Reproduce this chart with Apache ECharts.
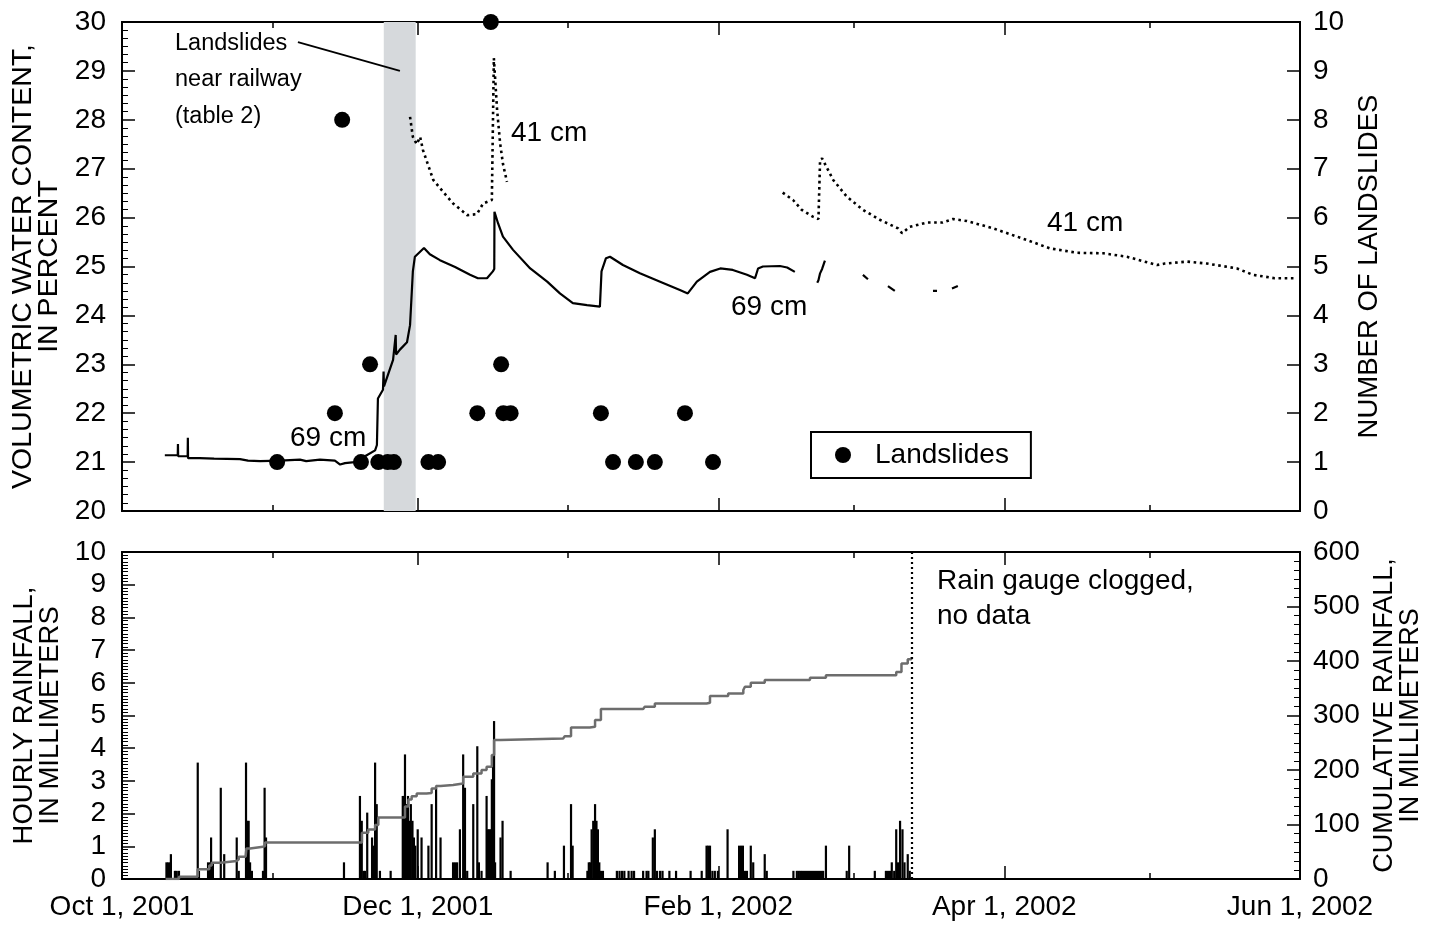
<!DOCTYPE html>
<html><head><meta charset="utf-8">
<script src="https://cdn.jsdelivr.net/npm/echarts@6/dist/echarts.min.js"></script>
<style>html,body{margin:0;padding:0;background:#fff}#c{width:1437px;height:926px}</style>
</head><body><div id="c"></div>
<script>
// ---------- DATA ----------
const xMin = '2001-10-01 00:00', xMax = '2002-06-01 00:00';
const majorDates = ['2001-10-01','2001-12-01','2002-02-01','2002-04-01','2002-06-01'];
const majorLabels = ['Oct 1, 2001','Dec 1, 2001','Feb 1, 2002','Apr 1, 2002','Jun 1, 2002'];
const minorDates = ['2001-11-01','2002-01-01','2002-03-01','2002-05-01'];

const vwc69 = [
 ["2001-10-09 20:00",21.14],["2001-10-12 12:00",21.14],["2001-10-12 13:00",21.37],["2001-10-12 14:00",21.12],["2001-10-14 13:00",21.12],["2001-10-14 14:00",21.5],["2001-10-14 15:00",21.08],["2001-10-17 00:00",21.08],["2001-10-20 00:00",21.07],["2001-10-25 08:00",21.06],["2001-10-27 00:00",21.03],["2001-10-29 12:00",21.02],["2001-11-02 14:00",21.03],["2001-11-06 17:00",21.05],["2001-11-08 00:00",21.02],["2001-11-10 20:00",21.05],["2001-11-13 22:00",21.03],["2001-11-15 00:00",20.95],["2001-11-16 00:00",20.98],["2001-11-18 00:00",21.0],["2001-11-20 03:00",21.12],["2001-11-22 05:00",21.24],["2001-11-22 14:00",21.35],["2001-11-22 19:00",22.3],["2001-11-23 20:00",22.48],["2001-11-23 23:00",22.85],["2001-11-24 01:00",22.55],["2001-11-25 22:00",23.09],["2001-11-26 11:00",23.6],["2001-11-26 13:00",23.2],["2001-11-27 08:00",23.3],["2001-11-28 19:00",23.45],["2001-11-29 10:00",23.8],["2001-11-30 00:00",24.9],["2001-11-30 10:00",25.2],["2001-12-02 07:00",25.38],["2001-12-03 12:00",25.25],["2001-12-05 14:00",25.13],["2001-12-08 17:00",24.99],["2001-12-11 19:00",24.83],["2001-12-13 10:00",24.76],["2001-12-15 07:00",24.76],["2001-12-16 12:00",24.9],["2001-12-16 19:00",24.95],["2001-12-16 20:00",26.12],["2001-12-17 14:00",25.88],["2001-12-18 14:00",25.61],["2001-12-20 16:00",25.34],["2001-12-24 05:00",24.96],["2001-12-27 17:00",24.69],["2001-12-30 08:00",24.45],["2002-01-02 00:00",24.25],["2002-01-04 22:00",24.21],["2002-01-07 14:00",24.18],["2002-01-07 22:00",24.9],["2002-01-08 20:00",25.17],["2002-01-09 16:00",25.2],["2002-01-12 08:00",25.03],["2002-01-15 20:00",24.86],["2002-01-20 00:00",24.69],["2002-01-24 02:00",24.52],["2002-01-25 17:00",24.45],["2002-01-27 14:00",24.69],["2002-01-30 07:00",24.89],["2002-02-01 10:00",24.96],["2002-02-04 00:00",24.93],["2002-02-06 22:00",24.83],["2002-02-08 14:00",24.76],["2002-02-09 05:00",24.96],["2002-02-10 05:00",25.0],["2002-02-13 17:00",25.01],["2002-02-15 05:00",24.98],["2002-02-16 19:00",24.89],
 ["2002-02-18 00:00",null],
 ["2002-02-21 10:00",24.67],["2002-02-21 16:00",24.72],["2002-02-22 00:00",24.86],["2002-02-22 10:00",24.95],["2002-02-23 00:00",25.12],
 ["2002-02-27 00:00",null],
 ["2002-03-02 20:00",24.83],["2002-03-03 21:00",24.74],
 ["2002-03-05 00:00",null],
 ["2002-03-08 00:00",24.6],["2002-03-09 10:00",24.5],
 ["2002-03-13 00:00",null],
 ["2002-03-17 07:00",24.5],["2002-03-18 03:00",24.5],
 ["2002-03-20 00:00",null],
 ["2002-03-21 05:00",24.55],["2002-03-22 10:00",24.6]
];

const vwc41 = [
 ["2001-11-29 10:00",28.06],["2001-11-30 00:00",27.65],["2001-11-30 19:00",27.5],["2001-12-01 12:00",27.65],["2001-12-02 02:00",27.38],["2001-12-04 05:00",26.77],["2001-12-06 05:00",26.53],["2001-12-08 07:00",26.29],["2001-12-11 05:00",26.05],["2001-12-13 05:00",26.07],["2001-12-14 12:00",26.29],["2001-12-16 07:00",26.36],["2001-12-16 17:00",29.26],["2001-12-17 09:00",28.2],["2001-12-18 00:00",27.52],["2001-12-18 14:00",27.1],["2001-12-19 10:00",26.73],
 ["2002-01-01 00:00",null],
 ["2002-02-14 07:00",26.51],["2002-02-16 10:00",26.36],["2002-02-18 05:00",26.16],["2002-02-20 12:00",26.02],["2002-02-21 16:00",25.97],["2002-02-22 00:00",27.18],["2002-02-22 10:00",27.21],["2002-02-24 17:00",26.77],["2002-02-27 12:00",26.43],["2002-03-02 20:00",26.16],["2002-03-06 10:00",25.95],["2002-03-10 02:00",25.78],["2002-03-10 22:00",25.68],["2002-03-12 12:00",25.81],["2002-03-16 02:00",25.9],["2002-03-19 07:00",25.9],["2002-03-21 10:00",25.97],["2002-03-24 07:00",25.93],["2002-03-29 17:00",25.78],["2002-04-05 17:00",25.54],["2002-04-10 10:00",25.37],["2002-04-16 00:00",25.28],["2002-04-21 10:00",25.27],["2002-04-26 07:00",25.2],["2002-05-02 12:00",25.03],["2002-05-04 02:00",25.06],["2002-05-08 17:00",25.1],["2002-05-12 19:00",25.06],["2002-05-19 00:00",24.96],["2002-05-22 07:00",24.83],["2002-05-26 19:00",24.76],["2002-05-30 23:00",24.76]
];

const landslides = [
 ["2001-11-02 00:00",1],["2001-11-13 22:00",2],["2001-11-15 10:00",8],["2001-11-19 07:00",1],["2001-11-21 04:00",3],["2001-11-22 21:00",1],["2001-11-24 19:00",1],["2001-11-26 02:00",1],["2001-12-03 05:00",1],["2001-12-05 05:00",1],["2001-12-13 07:00",2],["2001-12-16 02:00",10],["2001-12-18 05:00",3],["2001-12-18 16:00",2],["2001-12-20 04:00",2],["2002-01-07 19:00",2],["2002-01-10 07:00",1],["2002-01-15 00:00",1],["2002-01-18 22:00",1],["2002-01-25 03:00",2],["2002-01-30 22:00",1]
];

const hourlyRain = [
 ["2001-10-10 04:00",0.51],["2001-10-10 12:00",0.51],["2001-10-10 22:00",0.51],["2001-10-11 02:00",0.76],["2001-10-11 22:00",0.25],["2001-10-12 07:00",0.25],["2001-10-12 18:00",0.25],
 ["2001-10-16 15:00",3.56],["2001-10-16 21:00",0.25],
 ["2001-10-18 18:00",0.51],["2001-10-19 04:00",0.51],["2001-10-19 09:00",1.27],["2001-10-19 18:00",0.51],
 ["2001-10-21 09:00",2.79],["2001-10-22 02:00",0.76],
 ["2001-10-24 16:00",1.27],["2001-10-25 02:00",0.25],
 ["2001-10-26 14:00",3.56],["2001-10-26 20:00",1.78],["2001-10-27 03:00",1.78],["2001-10-27 10:00",0.51],["2001-10-27 19:00",0.25],
 ["2001-10-30 02:00",0.25],["2001-10-30 10:00",2.79],["2001-10-30 17:00",1.27],
 ["2001-11-15 19:00",0.51],
 ["2001-11-19 02:00",2.54],["2001-11-19 11:00",1.78],["2001-11-19 19:00",0.25],["2001-11-20 03:00",0.25],["2001-11-20 14:00",2.03],
 ["2001-11-21 14:00",1.27],["2001-11-21 22:00",1.02],["2001-11-22 05:00",3.56],["2001-11-22 13:00",2.29],["2001-11-23 05:00",0.25],
 ["2001-11-25 10:00",0.25],
 ["2001-11-27 22:00",2.54],["2001-11-28 04:00",2.54],["2001-11-28 09:00",3.81],["2001-11-28 16:00",2.29],["2001-11-29 00:00",2.54],["2001-11-29 07:00",1.78],["2001-11-29 14:00",2.29],["2001-11-29 22:00",1.78],["2001-11-30 05:00",1.27],["2001-11-30 12:00",1.02],
 ["2001-12-01 00:00",1.52],["2001-12-01 19:00",1.27],
 ["2001-12-03 05:00",1.02],["2001-12-03 21:00",2.29],["2001-12-04 19:00",2.79],["2001-12-05 17:00",1.27],
 ["2001-12-08 07:00",0.51],["2001-12-08 17:00",0.51],["2001-12-09 03:00",0.51],["2001-12-09 17:00",1.52],["2001-12-10 09:00",3.81],["2001-12-10 18:00",2.79],["2001-12-11 05:00",0.25],
 ["2001-12-12 11:00",2.29],["2001-12-13 07:00",4.06],["2001-12-13 15:00",0.51],["2001-12-14 04:00",0.25],
 ["2001-12-15 05:00",2.54],["2001-12-15 12:00",1.52],["2001-12-15 19:00",1.52],["2001-12-16 01:00",1.52],["2001-12-16 07:00",3.05],["2001-12-16 13:00",3.81],["2001-12-16 18:00",4.83],["2001-12-16 23:00",0.51],
 ["2001-12-18 02:00",1.27],["2001-12-18 12:00",1.78],["2001-12-20 04:00",0.25],
 ["2001-12-27 19:00",0.51],["2001-12-29 07:00",0.25],["2001-12-31 04:00",1.02],
 ["2002-01-01 15:00",2.29],["2002-01-01 23:00",1.02],
 ["2002-01-05 00:00",0.25],["2002-01-05 07:00",0.51],["2002-01-05 14:00",0.51],["2002-01-05 21:00",1.52],["2002-01-06 05:00",1.78],["2002-01-06 14:00",2.29],["2002-01-06 21:00",1.78],["2002-01-07 04:00",1.52],["2002-01-07 11:00",0.51],["2002-01-07 19:00",0.25],["2002-01-08 05:00",0.25],
 ["2002-01-11 02:00",0.25],["2002-01-11 15:00",0.25],["2002-01-12 03:00",0.25],["2002-01-12 15:00",0.25],["2002-01-13 12:00",0.25],["2002-01-14 03:00",0.25],["2002-01-14 15:00",0.25],
 ["2002-01-16 12:00",0.25],["2002-01-17 05:00",0.25],["2002-01-17 14:00",0.25],["2002-01-18 12:00",1.27],["2002-01-18 22:00",1.52],["2002-01-19 09:00",0.25],["2002-01-20 00:00",0.25],["2002-01-20 12:00",0.25],
 ["2002-01-21 22:00",0.25],["2002-01-23 07:00",0.25],["2002-01-26 07:00",0.25],["2002-01-28 14:00",0.25],
 ["2002-01-29 14:00",1.02],["2002-01-29 22:00",1.02],["2002-01-30 07:00",1.02],["2002-01-30 19:00",0.25],["2002-01-31 07:00",0.25],["2002-01-31 22:00",0.25],
 ["2002-02-02 22:00",1.52],
 ["2002-02-05 07:00",1.02],["2002-02-05 17:00",1.02],["2002-02-06 02:00",1.02],["2002-02-06 12:00",0.25],["2002-02-06 22:00",0.25],["2002-02-07 17:00",1.02],["2002-02-08 05:00",0.51],
 ["2002-02-10 14:00",0.76],["2002-02-11 00:00",0.25],
 ["2002-02-16 12:00",0.25],["2002-02-17 05:00",0.25],["2002-02-17 15:00",0.25],["2002-02-18 01:00",0.25],["2002-02-18 11:00",0.25],["2002-02-18 21:00",0.25],["2002-02-19 07:00",0.25],["2002-02-19 17:00",0.25],["2002-02-20 03:00",0.25],["2002-02-20 13:00",0.25],["2002-02-20 23:00",0.25],["2002-02-21 09:00",0.25],["2002-02-21 19:00",0.25],["2002-02-22 05:00",0.25],["2002-02-22 15:00",0.25],
 ["2002-02-23 05:00",1.02],
 ["2002-02-27 12:00",0.25],["2002-02-28 00:00",1.02],
 ["2002-03-05 07:00",0.25],
 ["2002-03-07 14:00",0.25],["2002-03-08 00:00",0.25],["2002-03-08 10:00",0.25],["2002-03-08 19:00",0.51],["2002-03-09 07:00",0.25],["2002-03-09 17:00",1.52],["2002-03-10 02:00",0.51],["2002-03-10 12:00",1.78],["2002-03-11 00:00",1.52],["2002-03-11 10:00",0.51],["2002-03-12 02:00",0.76],["2002-03-12 12:00",0.25]
];

const cumRain = [
 ["2001-10-10 00:00",0],["2001-10-12 18:00",4],["2001-10-16 15:00",18],["2001-10-19 00:00",25],["2001-10-19 12:00",30],["2001-10-21 09:00",33],["2001-10-24 16:00",36],["2001-10-25 02:00",41],["2001-10-26 12:00",44],["2001-10-26 16:00",56],["2001-10-27 10:00",59],["2001-10-30 02:00",60.5],["2001-10-30 12:00",67],
 ["2001-11-19 02:00",67],["2001-11-19 12:00",85],["2001-11-20 19:00",91],["2001-11-22 05:00",99],["2001-11-22 21:00",113],["2001-11-27 22:00",113],["2001-11-28 09:00",133],["2001-11-29 02:00",146],["2001-11-29 18:00",152],["2001-11-30 19:00",157],["2001-12-02 20:00",158],["2001-12-03 21:00",166],["2001-12-04 19:00",170.6],["2001-12-05 17:00",172.5],["2001-12-08 07:00",175.4],["2001-12-10 09:00",187.7],["2001-12-12 11:00",193.7],["2001-12-14 04:00",200],["2001-12-15 05:00",206],["2001-12-16 07:00",227.5],["2001-12-16 18:00",255],["2001-12-18 02:00",258],
 ["2001-12-31 00:00",258],["2001-12-31 08:00",262],["2002-01-01 15:00",278],["2002-01-05 12:00",279.5],["2002-01-06 14:00",291.7],["2002-01-07 19:00",312],["2002-01-16 12:00",312],["2002-01-16 20:00",316],["2002-01-18 22:00",322],["2002-01-29 14:00",323.5],["2002-01-30 07:00",336],["2002-02-03 01:00",340.5],["2002-02-06 04:00",346.8],["2002-02-06 12:00",352.8],["2002-02-07 17:00",360],["2002-02-10 14:00",365],["2002-02-19 22:00",369.4],["2002-02-23 05:00",374],["2002-03-08 02:00",374],["2002-03-09 17:00",380],["2002-03-10 19:00",395.6],["2002-03-12 02:00",403],["2002-03-12 20:00",406.7]
];

const railwayWindow = ['2001-11-24 00:00', '2001-11-30 14:00'];
const leaderLine = [["2001-11-06 07:00",29.59],["2001-11-27 08:00",29.0]];
const gaugeClogged = '2002-03-12 23:00';

// ---------- CHART ----------
const T = s => {
  const iso = s.length === 10 ? s + 'T00:00:00' : s.replace(' ', 'T') + ':00';
  return new Date(iso).getTime();
};
const XY = arr => arr.map(p => [T(p[0]), p[1]]);
const FONT = '"Liberation Sans", Arial, Helvetica, sans-serif';
const BLACK = '#000';
const majorT = majorDates.map(T), minorT = minorDates.map(T);

function xAxisDef(grid, pos, ticks, len, labels) {
  const ax = {
    type: 'value', gridIndex: grid, position: pos, min: T(xMin), max: T(xMax),
    axisLine: { show: true, onZero: false, lineStyle: { color: BLACK, width: 2 } },
    axisTick: { show: true, inside: true, length: len, customValues: ticks, lineStyle: { color: BLACK, width: 1.5 } },
    axisLabel: { show: false },
    splitLine: { show: false }, axisPointer: { show: false }
  };
  if (labels) {
    ax.axisLabel = {
      show: true, customValues: ticks, margin: 14, color: BLACK, fontSize: 28, fontFamily: FONT,
      showMinLabel: true, showMaxLabel: true,
      formatter: v => { const i = majorT.indexOf(v); return i >= 0 ? majorLabels[i] : ''; }
    };
  }
  return ax;
}

function yAxisDef(grid, pos, min, max, interval, minorSplit, name, gap, nameSize) {
  return {
    type: 'value', gridIndex: grid, position: pos, min, max, interval,
    name, nameLocation: 'middle', nameRotate: 90, nameGap: gap,
    nameTextStyle: { fontSize: nameSize || 27, fontFamily: FONT, color: BLACK, lineHeight: 26 },
    axisLine: { show: true, lineStyle: { color: BLACK, width: 2 } },
    axisTick: { show: true, inside: true, length: 13, lineStyle: { color: BLACK, width: 1.5 } },
    minorTick: { show: minorSplit > 0, splitNumber: minorSplit || 5, length: 6, lineStyle: { color: BLACK, width: 1 } },
    axisLabel: { color: BLACK, fontSize: 28, fontFamily: FONT, margin: pos === 'left' ? 16 : 13 },
    splitLine: { show: false }, minorSplitLine: { show: false }
  };
}

const chart = echarts.init(document.getElementById('c'), null, { renderer: 'canvas' });
chart.setOption({
  animation: false,
  backgroundColor: '#fff',
  textStyle: { fontFamily: FONT },
  grid: [
    { left: 122, top: 22, width: 1178, height: 489, containLabel: false },
    { left: 122, top: 552, width: 1178, height: 327, containLabel: false }
  ],
  xAxis: [
    xAxisDef(0, 'bottom', majorT, 13, false),
    xAxisDef(0, 'bottom', minorT, 6, false),
    xAxisDef(0, 'top', majorT, 13, false),
    xAxisDef(0, 'top', minorT, 6, false),
    xAxisDef(1, 'bottom', majorT, 13, true),
    xAxisDef(1, 'bottom', minorT, 6, false),
    xAxisDef(1, 'top', majorT, 13, false),
    xAxisDef(1, 'top', minorT, 6, false)
  ],
  yAxis: [
    yAxisDef(0, 'left', 20, 30, 1, 6, 'VOLUMETRIC WATER CONTENT,\nIN PERCENT', 50, 28.5),
    yAxisDef(0, 'right', 0, 10, 1, 0, 'NUMBER OF LANDSLIDES', 52, 27.5),
    yAxisDef(1, 'left', 0, 10, 1, 10, 'HOURLY RAINFALL,\nIN MILLIMETERS', 50, 27.5),
    yAxisDef(1, 'right', 0, 600, 100, 6, 'CUMULATIVE RAINFALL,\nIN MILLIMETERS', 69, 27)
  ],
  legend: {
    data: [{ name: 'Landslides', icon: 'circle' }],
    left: 811, top: 432,
    borderColor: BLACK, borderWidth: 2, borderRadius: 0,
    padding: [9, 22, 9, 24],
    itemWidth: 54, itemHeight: 16,
    textStyle: { fontSize: 28, fontFamily: FONT, color: BLACK },
    itemStyle: { opacity: 1, color: BLACK },
    selectedMode: false
  },
  series: [
    {
      name: 'Railway window', type: 'line', xAxisIndex: 0, yAxisIndex: 0, z: 0,
      data: [[T(xMin), null]], silent: true, showSymbol: false,
      markArea: { silent: true, itemStyle: { color: '#d6d9dc' },
        data: [[{ xAxis: T(railwayWindow[0]) }, { xAxis: T(railwayWindow[1]) }]] }
    },
    {
      name: '69 cm', type: 'line', xAxisIndex: 0, yAxisIndex: 0, z: 3,
      data: XY(vwc69), showSymbol: false, connectNulls: false,
      lineStyle: { color: BLACK, width: 2.2 }, silent: true
    },
    {
      name: '41 cm', type: 'line', xAxisIndex: 0, yAxisIndex: 0, z: 3,
      data: XY(vwc41), showSymbol: false, connectNulls: false,
      lineStyle: { color: BLACK, width: 2.6, type: [2.6, 3.6] }, silent: true
    },
    {
      name: 'leader', type: 'line', xAxisIndex: 0, yAxisIndex: 0, z: 3,
      data: XY(leaderLine), showSymbol: false, lineStyle: { color: BLACK, width: 1.8 }, silent: true
    },
    {
      name: 'Landslides', type: 'scatter', xAxisIndex: 0, yAxisIndex: 1, z: 5,
      data: XY(landslides), symbol: 'circle', symbolSize: 16, clip: false,
      itemStyle: { color: BLACK, opacity: 1 }
    },
    {
      name: 'Hourly rainfall', type: 'bar', xAxisIndex: 4, yAxisIndex: 2, z: 2,
      data: XY(hourlyRain), barWidth: 2.2, itemStyle: { color: BLACK }, silent: true,
      markLine: { silent: true, symbol: ['none', 'none'], label: { show: false },
        lineStyle: { color: BLACK, width: 2.2, type: [2, 3] },
        data: [{ xAxis: T(gaugeClogged) }] }
    },
    {
      name: 'Cumulative rainfall', type: 'line', xAxisIndex: 4, yAxisIndex: 3, z: 3,
      data: XY(cumRain), step: 'end', showSymbol: false,
      lineStyle: { color: '#6d6d6d', width: 2.5 }, silent: true
    }
  ],
  graphic: [
    { type: 'text', x: 175, y: 25, z: 10, style: { text: 'Landslides\nnear railway\n(table 2)', font: '23.5px ' + FONT, lineHeight: 36.5, fill: BLACK, verticalAlign: 'top' } },
    { type: 'text', x: 511, y: 133, z: 10, style: { text: '41 cm', font: '28px ' + FONT, fill: BLACK, verticalAlign: 'middle' } },
    { type: 'text', x: 1047, y: 223, z: 10, style: { text: '41 cm', font: '28px ' + FONT, fill: BLACK, verticalAlign: 'middle' } },
    { type: 'text', x: 290, y: 438, z: 10, style: { text: '69 cm', font: '28px ' + FONT, fill: BLACK, verticalAlign: 'middle' } },
    { type: 'text', x: 731, y: 307, z: 10, style: { text: '69 cm', font: '28px ' + FONT, fill: BLACK, verticalAlign: 'middle' } },
    { type: 'text', x: 937, y: 564, z: 10, style: { text: 'Rain gauge clogged,\nno data', font: '28px ' + FONT, lineHeight: 35, fill: BLACK, verticalAlign: 'top' } }
  ]
});
</script>
</body></html>
